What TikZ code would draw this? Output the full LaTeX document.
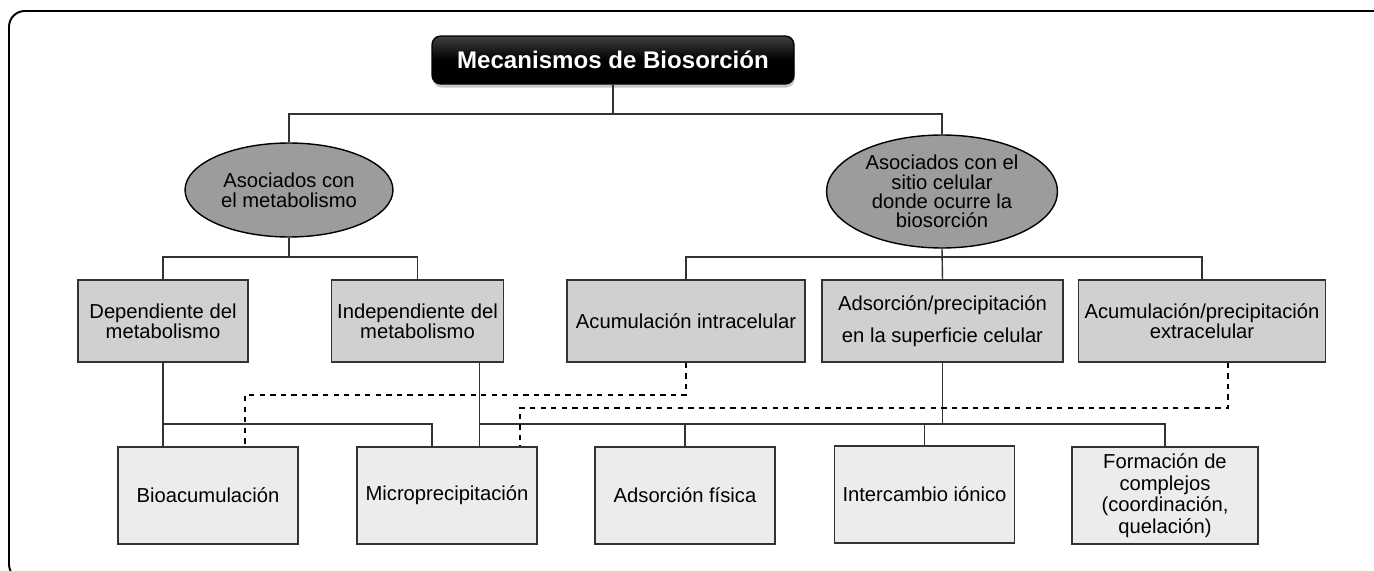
\documentclass[tikz,border=0pt]{standalone}
\usepackage{fontspec}
\setmainfont{Liberation Sans}
\usetikzlibrary{shadows, shapes.geometric}

\definecolor{ovalgray}{HTML}{9C9C9C}
\definecolor{midgray}{HTML}{D0D0D0}
\definecolor{lowgray}{HTML}{ECECEC}
\definecolor{linegray}{HTML}{333333}

\begin{document}
\begin{tikzpicture}
            [x=0.02cm, y=-0.02cm, line width=0.8pt,
             oval/.style={shape=ellipse, draw=black, fill=ovalgray, align=center, inner sep=0pt},
             midbox/.style={shape=rectangle, draw=black!80, fill=midgray, align=center, minimum height=1.64cm},
             lowbox/.style={shape=rectangle, draw=black!80, fill=lowgray, align=center, minimum width=3.6cm, minimum height=1.94cm},
             link/.style={draw=linegray},
             dashlink/.style={draw=black, dashed}]
            \clip (0,0) rectangle (1374,571);
            \draw[line width=1.1pt, rounded corners=9pt] (9,11) rectangle (1400,580);

            \node[shape=rectangle, rounded corners=5pt, minimum width=7.24cm, minimum height=0.96cm,
                  top color=black!75, bottom color=black, middle color=black, draw=black,
                  drop shadow={shadow xshift=0.5pt, shadow yshift=-2pt, opacity=0.45},
                  text=white, font=\fontsize{13.7}{16}\selectfont\bfseries] (titulo) at (613, 60) {Mecanismos de Biosorción};

            \node[oval, minimum width=4.16cm, minimum height=1.88cm, font=\fontsize{11.5}{11.6}\selectfont] (metab) at (289, 190) {Asociados con\\el metabolismo};
            \node[oval, minimum width=4.62cm, minimum height=2.26cm, font=\fontsize{11.5}{11}\selectfont] (sitio) at (942, 191.5) {Asociados con el\\sitio celular\\donde ocurre la\\biosorción};

            \node[midbox, minimum width=3.4cm, font=\fontsize{11.5}{11.5}\selectfont] (depen) at (163, 321) {Dependiente del\\metabolismo};
            \node[midbox, minimum width=3.38cm, font=\fontsize{11.5}{11.5}\selectfont] (indep) at (417.5, 321) {Independiente del\\metabolismo};
            \node[midbox, minimum width=4.76cm, font=\fontsize{11.5}{11.5}\selectfont] (intra) at (686, 321) {Acumulación intracelular};
            \node[midbox, minimum width=4.82cm, font=\fontsize{11.5}{18}\selectfont] (superf) at (942.5, 321) {Adsorción/precipitación\\en la superficie celular};
            \node[midbox, minimum width=4.88cm, font=\fontsize{11.5}{11.5}\selectfont] (extra) at (1202, 321) {Acumulación/precipitación\\extracelular};

            \node[lowbox, font=\fontsize{11.5}{13}\selectfont] (bioac) at (208, 495.5) {Bioacumulación};
            \node[lowbox, font=\fontsize{11.5}{13}\selectfont] (micro) at (447, 495.5) {Microprecipitación};
            \node[lowbox, font=\fontsize{11.5}{13}\selectfont] (fisica) at (685, 495.5) {Adsorción física};
            \node[lowbox, font=\fontsize{11.5}{13}\selectfont] (ionico) at (924.5, 494.5) {Intercambio iónico};
            \node[lowbox, minimum width=3.72cm, font=\fontsize{11.5}{12.3}\selectfont] (complejo) at (1165, 495.5) {Formación de\\complejos\\(coordinación,\\quelación)};

            \coordinate (busTop) at (0, 114);
            \coordinate (busMetab) at (0, 257);
            \coordinate (busLow) at (0, 424);
            \coordinate (dashA) at (0, 395);
            \coordinate (dashB) at (0, 408);

            % upper tree
            \path [link] (titulo.south) edge (titulo.south |- busTop);
            \draw [link] (metab.north) |- (titulo.south |- busTop) -| (sitio.north);
            \draw [link] (depen.north) |- (metab.south |- busMetab) -| (indep.north);
            \path [link] (metab.south) edge (metab.south |- busMetab);
            \draw [link] (intra.north) |- (sitio.south |- busMetab) -| (extra.north);
            \path [link] (sitio.south) edge (superf.north);

            % lower tree
            \draw [link] (depen.south) -- (depen.south |- bioac.north);
            \draw [link] (depen.south |- busLow) -| ([xshift=-0.3cm]micro.north);
            \draw [link] ([xshift=1.24cm]indep.south) -- ([xshift=1.24cm]indep.south |- micro.north);
            \draw [link] ([xshift=1.24cm]indep.south |- busLow) -| (complejo.north);
            \draw [link] (superf.south) -- (superf.south |- busLow);
            \path [link] (fisica.north) edge (fisica.north |- busLow);
            \path [link] (ionico.north) edge (ionico.north |- busLow);

            % dashed links
            \draw [dashlink] (intra.south) -- (intra.south |- dashA) -| ([xshift=0.74cm]bioac.north);
            \draw [dashlink] ([xshift=0.52cm]extra.south) -- ([xshift=0.52cm]extra.south |- dashB) -| ([xshift=1.46cm]micro.north);
        \end{tikzpicture}
\end{document}
